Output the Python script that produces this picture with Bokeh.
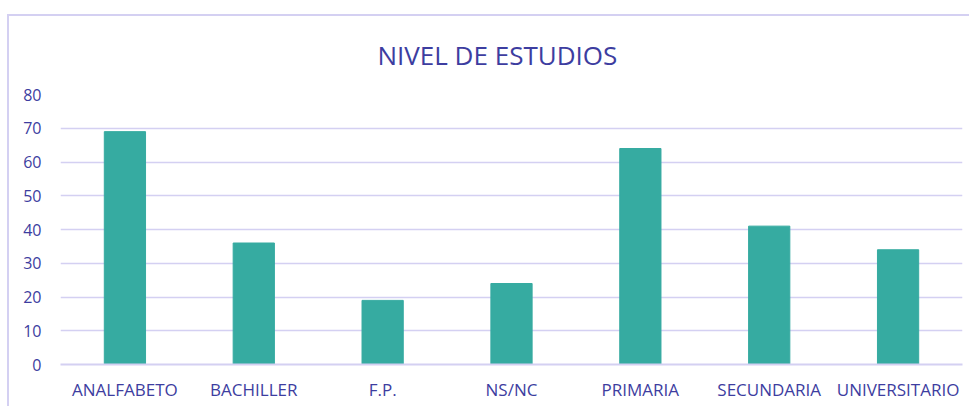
from bokeh.plotting import figure
from bokeh.models import Title, SingleIntervalTicker, Range1d
from bokeh.embed import file_html
from bokeh.resources import INLINE

categories = ["ANALFABETO", "BACHILLER", "F.P.", "NS/NC", "PRIMARIA", "SECUNDARIA", "UNIVERSITARIO"]
values = [69, 36, 19, 24, 64, 41, 34]

TEXT = "#3D3DA0"
GRID = "#D4D0F2"
BAR = "#36ABA1"
FONT = "Open Sans"

p = figure(x_range=categories, y_range=Range1d(0, 80), width=962, height=392,
           output_backend="svg", toolbar_location=None,
           min_border_left=51, min_border_right=9, min_border_top=78, min_border_bottom=44)
p.margin = (14, 0, 0, 7)
p.styles = {"border-left": "2px solid #D4D0F2", "border-top": "2px solid #D4D0F2"}
p.outline_line_color = None
p.x_range.range_padding = 0

p.vbar(x=categories, top=values, width=0.32, color=BAR)

t = Title(text="NIVEL DE ESTUDIOS", align="left", vertical_align="top", text_font=FONT,
          text_font_size="26px", text_font_style="normal", text_color=TEXT,
          standoff=40, offset=317)
p.add_layout(t, "above")

p.yaxis.ticker = SingleIntervalTicker(interval=10)
p.yaxis.axis_line_color = None
p.yaxis.major_tick_line_color = None
p.yaxis.minor_tick_line_color = None
p.yaxis.major_label_text_font = FONT
p.yaxis.major_label_text_font_size = "16px"
p.yaxis.major_label_text_color = TEXT
p.yaxis.major_label_standoff = 13

p.xaxis.axis_line_color = GRID
p.xaxis.axis_line_width = 2
p.xaxis.major_tick_line_color = None
p.xaxis.minor_tick_line_color = None
p.xaxis.major_label_text_font = FONT
p.xaxis.major_label_text_font_size = "17px"
p.xaxis.major_label_text_color = TEXT
p.xaxis.major_label_standoff = 7

p.xgrid.grid_line_color = None
p.ygrid.grid_line_color = GRID
p.ygrid.grid_line_width = 1.5

open("out.html", "w").write(file_html(p, INLINE))
